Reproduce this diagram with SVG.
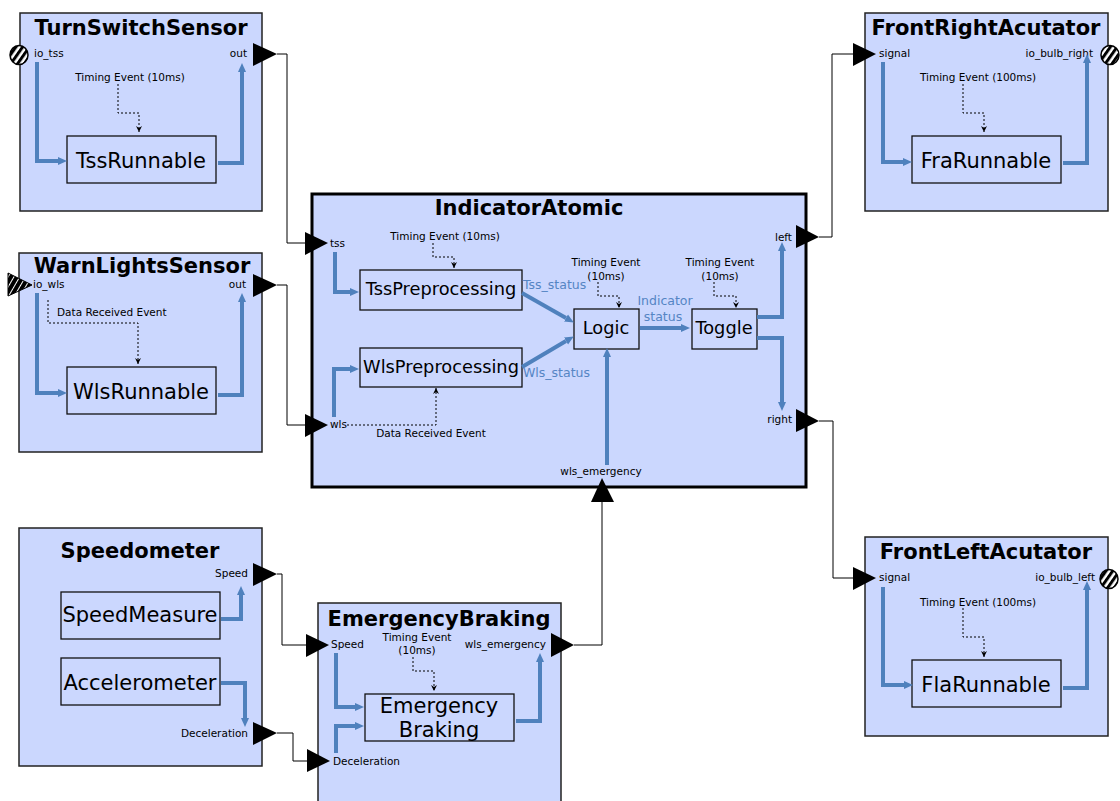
<svg xmlns="http://www.w3.org/2000/svg" width="1120" height="801" viewBox="0 0 1120 801">
<defs>
<style>
text{font-family:"DejaVu Sans","Liberation Sans",sans-serif;fill:#000}
.box{fill:#cbd7fe;stroke:#222;stroke-width:1.5}
.big{fill:#cbd7fe;stroke:#000;stroke-width:3}
.inner{fill:none;stroke:#111;stroke-width:1.3}
.title{font-size:21px;font-weight:bold;text-anchor:middle}
.run{font-size:21px;text-anchor:middle}
.pre{font-size:17.8px;text-anchor:middle}
.lbl{font-size:10.5px}
.end{text-anchor:end}
.mid{text-anchor:middle}
.bl{font-size:12.5px;fill:#5585c4}
.flow{stroke:#4f81bd;stroke-width:4;fill:none;marker-end:url(#ba)}
.evl{stroke:#000;stroke-width:1;stroke-dasharray:2,2;fill:none;marker-end:url(#da)}
.conn{stroke:#000;stroke-width:1;fill:none}
.port{fill:#000}
.hc{fill:url(#hatch);stroke:#000;stroke-width:1.5}
</style>
<marker id="ba" viewBox="0 0 10 10" refX="0" refY="5" markerWidth="10" markerHeight="10" markerUnits="userSpaceOnUse" orient="auto"><path d="M0,1 L9,5 L0,9 z" fill="#4f81bd"/></marker>
<marker id="da" viewBox="0 0 6 6" refX="6" refY="3" markerWidth="6" markerHeight="6" markerUnits="userSpaceOnUse" orient="auto"><path d="M0,0 L6,3 L0,6 L2,3 z" fill="#000"/></marker>
<pattern id="hatch" patternUnits="userSpaceOnUse" width="5.5" height="5.5" patternTransform="rotate(35)"><rect width="5.5" height="5.5" fill="#fff"/><rect width="3" height="5.5" fill="#000"/></pattern>
<pattern id="hatchw" patternUnits="userSpaceOnUse" width="5" height="5" patternTransform="rotate(30)"><rect width="5" height="5" fill="#000"/><rect width="1" height="5" fill="#fff"/></pattern>
</defs>

<g id="TurnSwitchSensor">
<rect class="box" x="20" y="13" width="242" height="198"/>
<text class="title" x="141" y="35">TurnSwitchSensor</text>
<ellipse class="hc" cx="19" cy="55" rx="9" ry="9.5"/>
<text class="lbl" x="34" y="57">io_tss</text>
<text class="lbl end" x="247" y="57">out</text>
<polygon class="port" points="253,43 253,66 277,54"/>
<text class="lbl mid" x="130" y="81">Timing Event (10ms)</text>
<path class="evl" d="M118,84 V113 H139 V132"/>
<rect class="inner" x="67" y="136" width="149" height="47"/>
<text class="run" x="141" y="168">TssRunnable</text>
<path class="flow" d="M37,62 V161 H58"/>
<path class="flow" d="M218,163 H242 V72"/>
</g>

<g id="WarnLightsSensor">
<rect class="box" x="19" y="253" width="243" height="199"/>
<text class="title" x="142" y="273">WarnLightsSensor</text>
<polygon points="8,273 8,296 32,285" fill="url(#hatchw)" stroke="#000" stroke-width="1"/>
<text class="lbl" x="33" y="288">io_wls</text>
<text class="lbl end" x="246" y="288">out</text>
<polygon class="port" points="253,274 253,297 277,285"/>
<text class="lbl" x="57" y="316">Data Received Event</text>
<path class="evl" d="M48,300 V323 H138 V364"/>
<rect class="inner" x="67" y="367" width="149" height="47"/>
<text class="run" x="141" y="399">WlsRunnable</text>
<path class="flow" d="M37,293 V393 H58"/>
<path class="flow" d="M218,395 H242 V302"/>
</g>

<g id="IndicatorAtomic">
<rect class="big" x="312" y="194" width="494" height="293"/>
<text class="title" x="529" y="215">IndicatorAtomic</text>
<polygon class="port" points="305,232 305,255 328,243"/>
<text class="lbl" x="330" y="247">tss</text>
<polygon class="port" points="305,414 305,437 328,425"/>
<text class="lbl" x="330" y="428">wls</text>
<polygon class="port" points="796,225 796,248 819,237"/>
<text class="lbl end" x="792" y="241">left</text>
<polygon class="port" points="796,409 796,432 819,421"/>
<text class="lbl end" x="792" y="423">right</text>
<polygon class="port" points="591,502 614,502 602,478"/>
<text class="lbl mid" x="601" y="475">wls_emergency</text>

<text class="lbl mid" x="445" y="240">Timing Event (10ms)</text>
<path class="evl" d="M433,243 V257 H454 V268"/>
<rect class="inner" x="360" y="270" width="162" height="40"/>
<text class="pre" x="441" y="295">TssPreprocessing</text>
<rect class="inner" x="360" y="348" width="162" height="39"/>
<text class="pre" x="441" y="373">WlsPreprocessing</text>
<path class="evl" d="M347,425 H436 V388"/>
<text class="lbl mid" x="431" y="437">Data Received Event</text>

<text class="lbl mid" x="606" y="266">Timing Event</text>
<text class="lbl mid" x="606" y="280">(10ms)</text>
<path class="evl" d="M598,282 V296 H619 V308"/>
<rect class="inner" x="574" y="309" width="65" height="40"/>
<text class="pre" x="606" y="334">Logic</text>

<text class="lbl mid" x="720" y="266">Timing Event</text>
<text class="lbl mid" x="720" y="280">(10ms)</text>
<path class="evl" d="M714,282 V296 H736 V308"/>
<rect class="inner" x="692" y="309" width="65" height="40"/>
<text class="pre" x="724" y="334">Toggle</text>

<path class="flow" d="M335,252 V292 H350"/>
<path class="flow" d="M334,417 V369 H350"/>
<path class="flow" d="M522,293 L566,318"/>
<text class="bl" x="523" y="289">Tss_status</text>
<path class="flow" d="M522,367 L566,341"/>
<text class="bl" x="523" y="377">Wls_status</text>
<path class="flow" d="M640,328 H681"/>
<text class="bl mid" x="665" y="305">Indicator</text>
<text class="bl mid" x="663" y="321">status</text>
<path class="flow" d="M607,465 V357"/>
<path class="flow" d="M757,317 H782 V251"/>
<path class="flow" d="M757,338 H782 V402"/>
</g>

<g id="FrontRightAcutator">
<rect class="box" x="865" y="13" width="243" height="198"/>
<text class="title" x="986" y="35">FrontRightAcutator</text>
<polygon class="port" points="853,43 853,66 876,54"/>
<text class="lbl" x="879" y="57">signal</text>
<text class="lbl end" x="1093" y="57">io_bulb_right</text>
<ellipse class="hc" cx="1110" cy="55" rx="9" ry="9.5"/>
<text class="lbl mid" x="978" y="81">Timing Event (100ms)</text>
<path class="evl" d="M963,84 V113 H984 V132"/>
<rect class="inner" x="912" y="136" width="149" height="47"/>
<text class="run" x="986" y="168">FraRunnable</text>
<path class="flow" d="M883,62 V162 H903"/>
<path class="flow" d="M1063,163 H1087 V63"/>
</g>

<g id="FrontLeftAcutator">
<rect class="box" x="865" y="537" width="243" height="199"/>
<text class="title" x="986" y="559">FrontLeftAcutator</text>
<polygon class="port" points="853,567 853,590 876,578"/>
<text class="lbl" x="879" y="581">signal</text>
<text class="lbl end" x="1095" y="581">io_bulb_left</text>
<ellipse class="hc" cx="1109" cy="579" rx="9" ry="9.5"/>
<text class="lbl mid" x="978" y="606">Timing Event (100ms)</text>
<path class="evl" d="M963,608 V637 H984 V657"/>
<rect class="inner" x="912" y="660" width="149" height="47"/>
<text class="run" x="986" y="692">FlaRunnable</text>
<path class="flow" d="M883,587 V685 H904"/>
<path class="flow" d="M1063,688 H1087 V590"/>
</g>

<g id="Speedometer">
<rect class="box" x="19" y="528" width="243" height="238"/>
<text class="title" x="140" y="558">Speedometer</text>
<text class="lbl end" x="248" y="577">Speed</text>
<polygon class="port" points="253,563 253,586 277,574"/>
<rect class="inner" x="61" y="592" width="159" height="47"/>
<text class="run" x="140" y="622">SpeedMeasure</text>
<rect class="inner" x="61" y="658" width="159" height="47"/>
<text class="run" x="140" y="690">Accelerometer</text>
<text class="lbl end" x="248" y="737">Deceleration</text>
<polygon class="port" points="253,722 253,745 277,733"/>
<path class="flow" d="M221,619 H241 V595"/>
<path class="flow" d="M221,683 H245 V718"/>
</g>

<g id="EmergencyBraking">
<rect class="box" x="318" y="603" width="243" height="210"/>
<text class="title" x="439" y="626">EmergencyBraking</text>
<polygon class="port" points="306,634 306,657 329,645"/>
<text class="lbl" x="331" y="648">Speed</text>
<polygon class="port" points="307,749 307,772 330,761"/>
<text class="lbl" x="333" y="765">Deceleration</text>
<polygon class="port" points="551,633 551,657 574,645"/>
<text class="lbl end" x="546" y="648">wls_emergency</text>
<text class="lbl mid" x="417" y="641">Timing Event</text>
<text class="lbl mid" x="417" y="654">(10ms)</text>
<path class="evl" d="M413,657 V671 H434 V691"/>
<rect class="inner" x="365" y="694" width="149" height="47"/>
<text class="run" x="439" y="713">Emergency</text>
<text class="run" x="439" y="737">Braking</text>
<path class="flow" d="M336,653 V707 H355"/>
<path class="flow" d="M336,753 V726 H355"/>
<path class="flow" d="M516,721 H540 V662"/>
</g>

<g id="connectors">
<path class="conn" d="M277,54 H287 V243 H305"/>
<path class="conn" d="M277,285 H287 V425 H305"/>
<path class="conn" d="M819,237 H832 V54 H853"/>
<path class="conn" d="M819,421 H833 V578 H853"/>
<path class="conn" d="M277,574 H282 V645 H306"/>
<path class="conn" d="M277,733 H293 V761 H307"/>
<path class="conn" d="M574,645 H602 V502"/>
</g>
</svg>
